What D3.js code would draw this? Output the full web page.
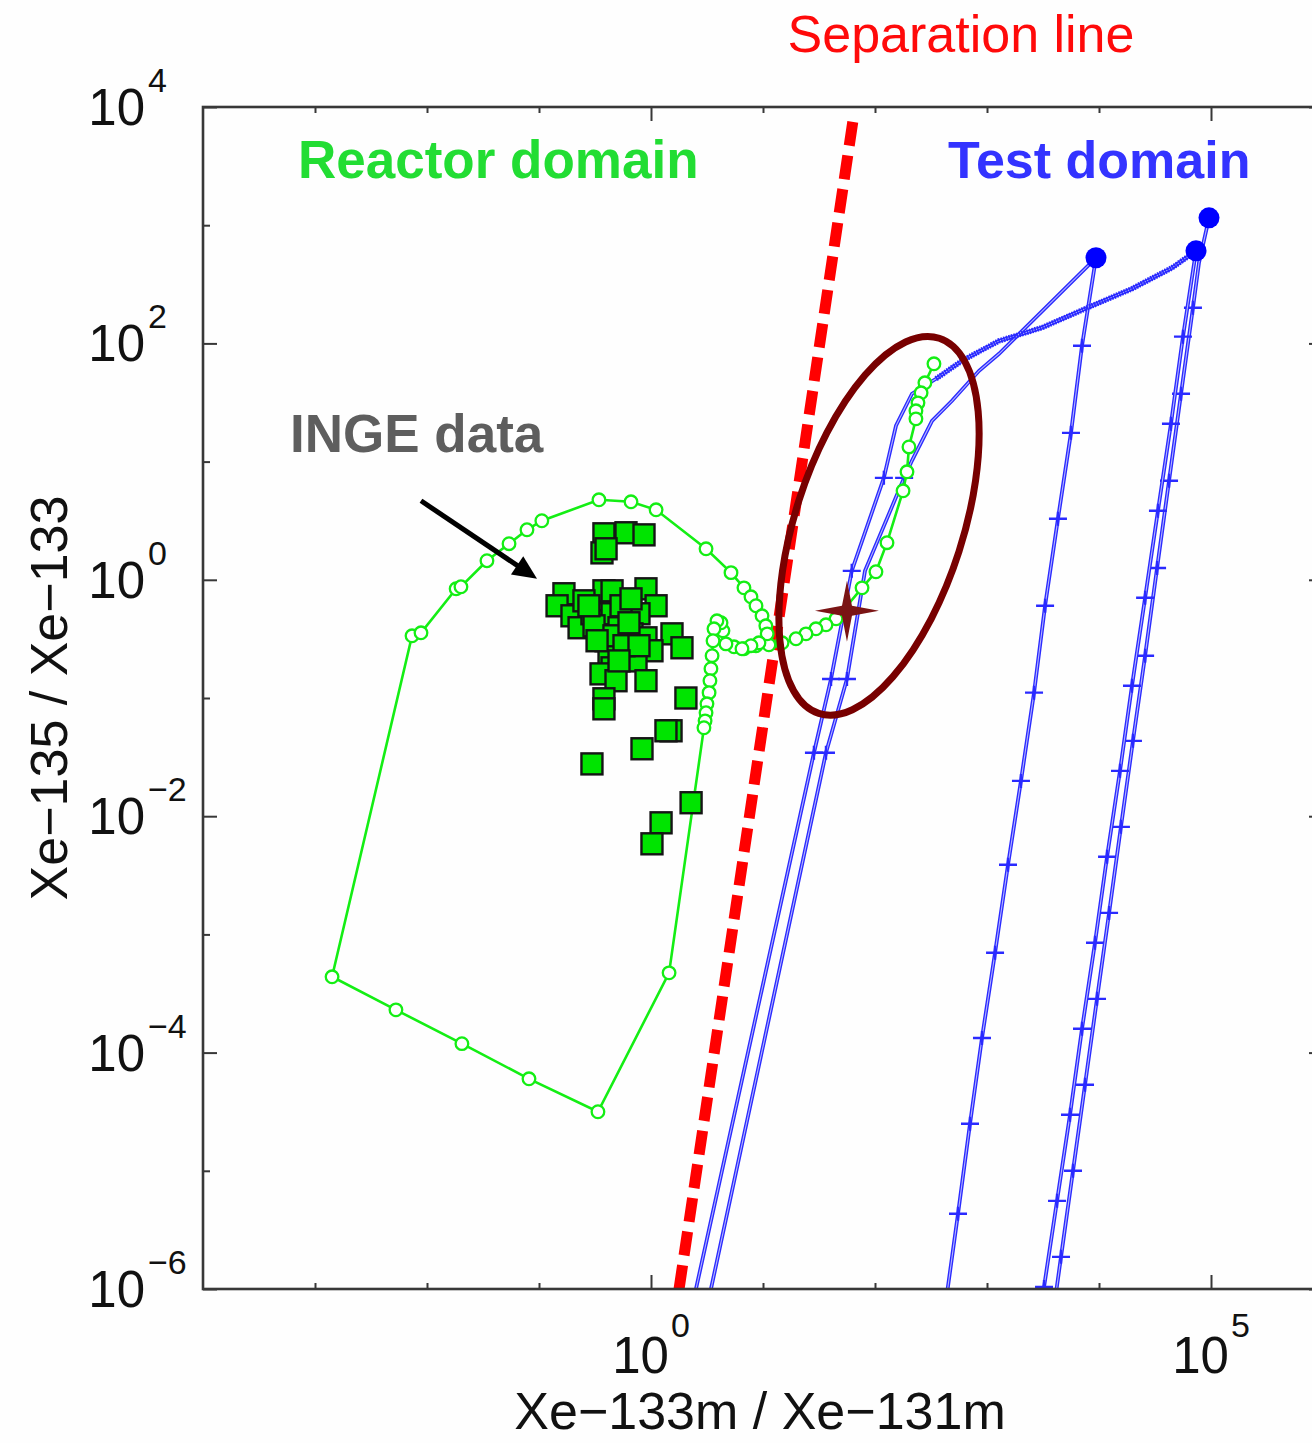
<!DOCTYPE html>
<html>
<head>
<meta charset="utf-8">
<script src="https://cdn.jsdelivr.net/npm/d3@7"></script>
<style>
  body { margin: 0; background: #fff; }
  svg { display: block; }
  text { font-family: "Liberation Sans", Arial, Helvetica, sans-serif; }
</style>
</head>
<body>
<svg id="chart" width="1312" height="1443"></svg>
<script>
// ---- data, [Xe-133m/Xe-131m, Xe-135/Xe-133] ----

// separation line end points
const sepX = [1.78, 64.6];
const sepY = [1e-6, 8500];

// reactor simulation (green line with open circles)
const reactorSim = [
  [336, 67.2], [279, 46.4], [258, 38.2], [242, 31.4], [232, 26.9], [232, 23.0],
  [201, 13.3], [193, 8.2], [178, 5.66], [128, 2.06], [102, 1.17], [76.6, 0.855],
  [44.9, 0.468], [36.5, 0.416], [29.7, 0.385], [24.2, 0.349], [19.7, 0.317],
  [14.8, 0.293], [11.3, 0.282], [8.66, 0.277], [6.76, 0.261], [5.51, 0.271],
  [4.67, 0.287], [4.39, 0.370], [4.22, 0.433], [3.88, 0.450], [3.65, 0.385],
  [3.58, 0.305], [3.51, 0.228], [3.43, 0.177], [3.36, 0.140], [3.30, 0.111],
  [3.16, 0.0893], [3.10, 0.0750], [3.04, 0.0641], [2.97, 0.0560],
  [1.45, 4.73e-4], [0.336, 3.16e-5], [0.0814, 6.0e-5], [0.0205, 1.19e-4],
  [5.28e-3, 2.30e-4], [1.42e-3, 4.38e-4], [7.35e-3, 0.336], [8.84e-3, 0.356],
  [0.0182, 0.839], [0.0201, 0.873], [0.0343, 1.45], [0.0540, 2.02],
  [0.0781, 2.65], [0.106, 3.16], [0.343, 4.75], [0.663, 4.57], [1.11, 3.91],
  [3.10, 1.83], [5.18, 1.15], [6.76, 0.855], [7.81, 0.718], [8.66, 0.603],
  [9.80, 0.496], [10.6, 0.408], [10.9, 0.349], [9.21, 0.293], [7.81, 0.277],
  [6.49, 0.261]
];

// INGE measurements (green squares)
const ingeX = [0.380, 0.598, 0.866, 0.365, 0.397, 0.167, 0.145, 0.380, 0.449, 0.902,
  1.11, 0.197, 0.228, 0.297, 0.343, 0.449, 0.598, 0.781, 0.518, 0.676,
  0.902, 1.54, 1.89, 1.02, 0.735, 0.397, 0.422, 0.449, 0.358, 0.487,
  0.902, 0.380, 0.380, 2.05, 1.51, 1.36, 0.831, 0.297, 2.28, 1.23,
  1.02, 0.252, 0.310, 0.540, 0.663, 0.467, 0.574, 0.781, 0.330, 0.518,
  0.279, 0.636];
const ingeY = [2.45, 2.50, 2.40, 1.69, 1.83, 0.762, 0.603, 0.807, 0.807, 0.839,
  0.603, 0.496, 0.393, 0.516, 0.450, 0.516, 0.477, 0.516, 0.393, 0.349,
  0.323, 0.349, 0.266, 0.251, 0.206, 0.305, 0.237, 0.180, 0.160, 0.140,
  0.140, 0.0985, 0.0810, 0.100, 0.0528, 0.0528, 0.0372, 0.0277, 0.0130, 8.79e-3,
  5.84e-3, 0.664, 0.408, 0.603, 0.690, 0.336, 0.277, 0.277, 0.305, 0.206,
  0.603, 0.433];

// test simulations (blue), third value = 1 where a "+" marker is drawn
const testA = [
  [2.52, 1e-6, 0], [28.5, 0.0344, 1], [40.5, 0.145, 1], [62, 1.19, 1], [120, 7.29, 1],
  [154, 20.1, 0], [214, 37.5, 0], [351, 50.2, 0], [598, 71.3, 0], [1280, 105, 0],
  [3100, 136, 0], [8660, 208, 0], [19700, 290, 0], [44900, 436, 0], [73500, 607, 0]
];
const testB = [
  [3.43, 1e-6, 0], [36.5, 0.0344, 1], [56.2, 0.145, 1], [81.4, 1.19, 0], [182, 7.29, 1],
  [214, 10.2, 0], [323, 22.1, 0], [487, 32.7, 0], [849, 58.6, 0], [1280, 81.7, 0],
  [9400, 530, 0]
];
const testC = [
  [9400, 530, 0], [7050, 95.5, 1], [5620, 17.5, 1], [4300, 3.28, 1], [3300, 0.603, 1],
  [2630, 0.111, 1], [2010, 0.0199, 1], [1540, 3.88e-3, 1], [1180, 6.99e-4, 1],
  [902, 1.33e-4, 1], [705, 2.50e-5, 1], [551, 4.33e-6, 1], [430, 7.9e-7, 1]
];
const testD = [
  [96000, 1155, 0], [78100, 481, 0], [69000, 200, 1], [54000, 37.5, 1], [42200, 6.88, 1],
  [33000, 1.26, 1], [25800, 0.228, 1], [20100, 0.0434, 1], [15700, 8.13e-3, 1],
  [12300, 1.52e-3, 1], [9600, 2.85e-4, 1], [7500, 5.34e-5, 1], [5860, 1.0e-5, 1],
  [4580, 1.87e-6, 1], [3580, 3.5e-7, 1]
];
const testE = [
  [73500, 607, 0], [56200, 114, 1], [43900, 20.9, 1], [33600, 3.84, 1], [25800, 0.704, 1],
  [19700, 0.127, 1], [15400, 0.0242, 1], [11800, 4.54e-3, 1], [9210, 8.49e-4, 1],
  [7050, 1.59e-4, 1], [5510, 2.98e-5, 1], [4220, 5.57e-6, 1], [3230, 1.04e-6, 1],
  [2520, 1.95e-7, 1]
];
// starting points of the test runs (filled dots)
const testStartX = [9400, 73500, 96000];
const testStartY = [530, 607, 1155];

// ticks
const xMajorTicks = [1e0, 1e5];
const xMinorTicks = [1e-3, 1e-2, 1e-1, 1e1, 1e2, 1e3, 1e4];
const yMajorTicks = [1e-6, 1e-4, 1e-2, 1e0, 1e2, 1e4];
const yMinorTicks = [1e-5, 1e-3, 1e-1, 1e1, 1e3];
const xTickExps = ["0", "5"];
const yTickExps = ["\u22126", "\u22124", "\u22122", "0", "2", "4"];

// ---- drawing ----
const svg = d3.select("#chart");
svg.append("rect").attr("width", 1312).attr("height", 1443).attr("fill", "#fefefe");

const box = { left: 203, right: 1323, top: 107, bottom: 1289 };
const x = d3.scaleLog().domain([1e-4, 1e6]).range([box.left, box.right]);
const y = d3.scaleLog().domain([1e-6, 1e4]).range([box.bottom, box.top]);

svg.append("defs").append("clipPath").attr("id", "plotclip")
  .append("rect")
  .attr("x", box.left).attr("y", box.top)
  .attr("width", box.right - box.left).attr("height", box.bottom - box.top);

const plot = svg.append("g").attr("clip-path", "url(#plotclip)");
const line = d3.line().x(d => x(d[0])).y(d => y(d[1]));

// separation line
plot.append("path")
  .datum(d3.zip(sepX, sepY))
  .attr("d", line)
  .attr("fill", "none")
  .attr("stroke", "#ff0000")
  .attr("stroke-width", 11)
  .attr("stroke-dasharray", "24 10");

// test curves
const blue = "#2a2aff";
[testA, testB, testC, testD, testE].forEach(c => {
  plot.append("path").datum(c).attr("d", line)
    .attr("fill", "none").attr("stroke", blue).attr("stroke-width", 3.8);
  plot.append("path").datum(c).attr("d", line)
    .attr("fill", "none").attr("stroke", "#b4b4ff").attr("stroke-width", 1.1);
  plot.selectAll(null)
    .data(c.filter(d => d[2]))
    .enter().append("path")
    .attr("transform", d => `translate(${x(d[0])},${y(d[1])})`)
    .attr("d", "M-9,0H9M0,-7V7")
    .attr("stroke", blue).attr("stroke-width", 2.4);
});
// dense part of the first run
plot.append("path").datum(testA.slice(7)).attr("d", line)
  .attr("fill", "none").attr("stroke", blue).attr("stroke-width", 5.5)
  .attr("stroke-dasharray", "1.6 1.1");

plot.selectAll("circle.start")
  .data(d3.zip(testStartX, testStartY))
  .enter().append("circle")
  .attr("class", "start")
  .attr("cx", d => x(d[0])).attr("cy", d => y(d[1]))
  .attr("r", 10.5).attr("fill", "#0000ff");

// reactor simulation
const green = "#14ee14";
plot.append("path").datum(reactorSim).attr("d", line)
  .attr("fill", "none").attr("stroke", green).attr("stroke-width", 2.6);
plot.selectAll("circle.sim")
  .data(reactorSim)
  .enter().append("circle")
  .attr("class", "sim")
  .attr("cx", d => x(d[0])).attr("cy", d => y(d[1]))
  .attr("r", 6.3).attr("fill", "#fff")
  .attr("stroke", green).attr("stroke-width", 2.3);

// INGE data
plot.selectAll("rect.inge")
  .data(d3.zip(ingeX, ingeY))
  .enter().append("rect")
  .attr("class", "inge")
  .attr("x", d => x(d[0]) - 10.5).attr("y", d => y(d[1]) - 10.5)
  .attr("width", 21).attr("height", 21)
  .attr("fill", "#00e400").attr("stroke", "#151515").attr("stroke-width", 2.4);

// ---- axes ----
const axisColor = "#383838";
function tickSet(axisFn, scale, vals, size, transform) {
  svg.append("g").attr("transform", transform)
    .call(axisFn(scale).tickValues(vals).tickSize(-size).tickFormat(""))
    .call(g => g.select(".domain").remove())
    .selectAll("line").attr("stroke", axisColor).attr("stroke-width", 2);
}
tickSet(d3.axisBottom, x, xMajorTicks, 14, `translate(0,${box.bottom})`);
tickSet(d3.axisBottom, x, xMinorTicks, 6, `translate(0,${box.bottom})`);
tickSet(d3.axisTop, x, xMajorTicks, 14, `translate(0,${box.top})`);
tickSet(d3.axisTop, x, xMinorTicks, 6, `translate(0,${box.top})`);
tickSet(d3.axisLeft, y, yMajorTicks, 14, `translate(${box.left},0)`);
tickSet(d3.axisLeft, y, yMinorTicks, 7, `translate(${box.left},0)`);
tickSet(d3.axisRight, y, yMajorTicks, 14, `translate(${box.right},0)`);
tickSet(d3.axisRight, y, yMinorTicks, 7, `translate(${box.right},0)`);

svg.append("rect")
  .attr("x", box.left).attr("y", box.top)
  .attr("width", box.right - box.left).attr("height", box.bottom - box.top)
  .attr("fill", "none").attr("stroke", axisColor).attr("stroke-width", 2.6);

// y tick labels: "10" with exponent
yMajorTicks.forEach((v, i) => {
  svg.append("text").attr("x", 145).attr("y", y(v) + 18)
    .attr("text-anchor", "end").attr("font-size", 51).attr("fill", "#111")
    .text("10");
  svg.append("text").attr("x", 148).attr("y", y(v) - 15)
    .attr("font-size", 34).attr("fill", "#111")
    .text(yTickExps[i]);
});
// x tick labels
xMajorTicks.forEach((v, i) => {
  const t = svg.append("text").attr("x", x(v)).attr("y", box.bottom + 84)
    .attr("text-anchor", "middle").attr("fill", "#111");
  t.append("tspan").attr("font-size", 51).text("10");
  t.append("tspan").attr("font-size", 34).attr("dx", 2).attr("dy", -36).text(xTickExps[i]);
});

// axis titles
svg.append("text")
  .attr("x", 760).attr("y", 1429)
  .attr("text-anchor", "middle").attr("font-size", 52).attr("fill", "#111")
  .text("Xe\u2212133m / Xe\u2212131m");
svg.append("text")
  .attr("transform", `translate(67,${(box.top + box.bottom) / 2}) rotate(-90)`)
  .attr("text-anchor", "middle").attr("font-size", 52).attr("fill", "#111")
  .text("Xe\u2212135 / Xe\u2212133");

// ---- annotations ----
// ellipse around the overlap region
svg.append("ellipse")
  .attr("transform", `translate(${x(108.6)},${y(2.86)}) rotate(17.8)`)
  .attr("rx", 84).attr("ry", 197)
  .attr("fill", "none").attr("stroke", "#780000").attr("stroke-width", 7);

// four-pointed star
svg.append("path")
  .attr("transform", `translate(${x(56.2)},${y(0.547)})`)
  .attr("d", "M0,-30L5,-5L32,0L5,5L0,31L-5,5L-32,0L-5,-5Z")
  .attr("fill", "#7a1414");

// arrow to the INGE data
const a0 = [x(8.84e-3), y(4.66)], a1 = [x(0.096), y(1.02)];
const ang = Math.atan2(a1[1] - a0[1], a1[0] - a0[0]) * 180 / Math.PI;
svg.append("line")
  .attr("x1", a0[0]).attr("y1", a0[1])
  .attr("x2", a1[0] - 16 * Math.cos(ang * Math.PI / 180))
  .attr("y2", a1[1] - 16 * Math.sin(ang * Math.PI / 180))
  .attr("stroke", "#000").attr("stroke-width", 5);
svg.append("path")
  .attr("transform", `translate(${a1[0]},${a1[1]}) rotate(${ang})`)
  .attr("d", "M0,0L-24,-11L-24,11Z")
  .attr("fill", "#000");

// labels
svg.append("text").attr("x", 961).attr("y", 52).attr("text-anchor", "middle")
  .attr("font-size", 52).attr("fill", "#ff0a0a").text("Separation line");
svg.append("text").attr("x", 298).attr("y", 178)
  .attr("font-size", 53).attr("font-weight", "bold").attr("fill", "#22dd33")
  .text("Reactor domain");
svg.append("text").attr("x", 948).attr("y", 178)
  .attr("font-size", 52).attr("font-weight", "bold").attr("fill", "#3333ff")
  .text("Test domain");
svg.append("text").attr("x", 290).attr("y", 452)
  .attr("font-size", 53).attr("font-weight", "bold").attr("fill", "#5e5e5e")
  .text("INGE data");
</script>
</body>
</html>
